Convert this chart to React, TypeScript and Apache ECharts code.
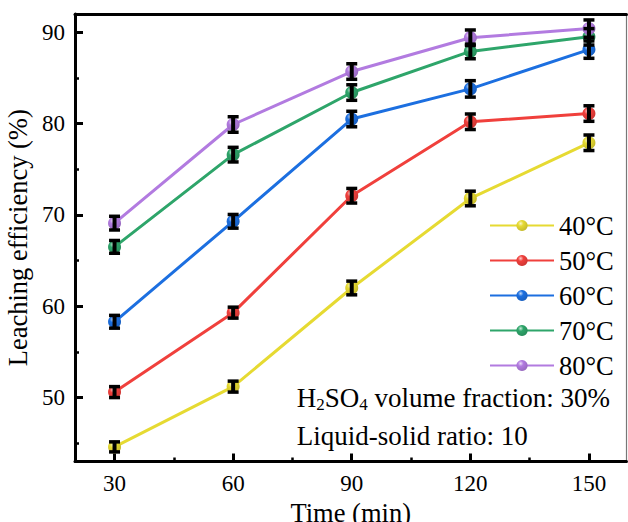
import React, { useEffect, useRef } from 'react';
import * as echarts from 'echarts';

const times = [30, 60, 90, 120, 150];
const seriesNames = ['40°C', '50°C', '60°C', '70°C', '80°C'];
const y40 = [44.6, 51.2, 62.0, 71.8, 77.9];
const y50 = [50.6, 59.3, 72.1, 80.2, 81.1];
const y60 = [58.3, 69.3, 80.5, 83.8, 88.1];
const y70 = [66.5, 76.6, 83.4, 87.9, 89.5];
const y80 = [69.1, 79.9, 85.7, 89.4, 90.4];
const e40 = [0.55, 0.6, 0.75, 0.8, 0.85];
const e50 = [0.6, 0.6, 0.8, 0.85, 0.85];
const e60 = [0.7, 0.75, 0.85, 0.9, 0.95];
const e70 = [0.7, 0.8, 0.85, 0.8, 0.9];
const e80 = [0.75, 0.85, 0.85, 0.85, 0.95];
const xMajorTicks = [30, 60, 90, 120, 150];
const xMinorTicks = [45, 75, 105, 135];
const yMajorTicks = [50, 60, 70, 80, 90];
const yMinorTicks = [45, 55, 65, 75, 85];
const colors = ['#E6DA32', '#F0403C', '#1C6FE0', '#2EA56A', '#B27BE0'];
const annotation1 = ['H', '2', 'SO', '4', ' volume fraction: 30%'];
const annotation2 = 'Liquid-solid ratio: 10';
const xTitle = 'Time (min)';
const yTitle = 'Leaching efficiency (%)';

const FONT = 'Liberation Serif';

function lighten(hex: string, f: number) {
  const n = parseInt(hex.slice(1), 16);
  const r = (n >> 16) & 255, g = (n >> 8) & 255, b = n & 255;
  const m = (c: number) => Math.round(c + (255 - c) * f);
  return `rgb(${m(r)},${m(g)},${m(b)})`;
}
function darken(hex: string, f: number) {
  const n = parseInt(hex.slice(1), 16);
  const r = (n >> 16) & 255, g = (n >> 8) & 255, b = n & 255;
  const m = (c: number) => Math.round(c * (1 - f));
  return `rgb(${m(r)},${m(g)},${m(b)})`;
}

export default function App() {
  const ref = useRef<HTMLDivElement>(null);
  useEffect(() => {
    if (!ref.current) return;
    const chart = echarts.init(ref.current, undefined, { renderer: 'svg' });
    const ys = [y40, y50, y60, y70, y80];
    const es = [e40, e50, e60, e70, e80];

    const lineSeries = ys.map((ys0, i) => ({
      type: 'line',
      name: seriesNames[i],
      data: times.map((t, j) => [t, ys0[j]]),
      xAxisIndex: 0,
      yAxisIndex: 0,
      symbol: 'circle',
      symbolSize: 13,
      z: 2 + i,
      lineStyle: { color: colors[i], width: 3 },
      itemStyle: {
        color: {
          type: 'radial', x: 0.38, y: 0.32, r: 0.7,
          colorStops: [
            { offset: 0, color: lighten(colors[i], 0.75) },
            { offset: 0.35, color: colors[i] },
            { offset: 1, color: darken(colors[i], 0.15) },
          ],
        },
        borderWidth: 0,
      },
    }));

    const errSeries = ys.map((ys0, i) => ({
      type: 'custom',
      name: 'err' + i,
      xAxisIndex: 0,
      yAxisIndex: 0,
      z: 20,
      data: times.map((t, j) => [t, ys0[j] - es[i][j], ys0[j] + es[i][j]]),
      renderItem: (params: any, api: any) => {
        const x = api.value(0);
        const lo = api.coord([x, api.value(1)]);
        const hi = api.coord([x, api.value(2)]);
        const hw = 5.5;
        const st = { stroke: '#000', lineWidth: 3.5 };
        return {
          type: 'group',
          children: [
            { type: 'line', shape: { x1: lo[0], y1: lo[1], x2: hi[0], y2: hi[1] }, style: { stroke: '#000', lineWidth: 4 } },
            { type: 'line', shape: { x1: lo[0] - hw, y1: lo[1], x2: lo[0] + hw, y2: lo[1] }, style: st },
            { type: 'line', shape: { x1: hi[0] - hw, y1: hi[1], x2: hi[0] + hw, y2: hi[1] }, style: st },
          ],
        };
      },
    }));

    const labelStyle = { color: '#000', fontFamily: FONT, fontSize: 23 };

    const option: any = {
      animation: false,
      grid: { left: 75, top: 14, right: 1.5, bottom: 60.5, containLabel: false, outerBoundsMode: 'none' },
      legend: {
        data: seriesNames,
        orient: 'vertical',
        left: 489,
        top: 212,
        padding: 0,
        itemWidth: 64,
        itemHeight: 14,
        itemGap: 8,
        textStyle: { color: '#000', fontFamily: FONT, fontSize: 26.5, lineHeight: 26 },
      },
      xAxis: [
        {
          type: 'value', min: 20, max: 159.5, position: 'bottom',
          name: xTitle, nameLocation: 'middle', nameGap: 34,
          nameTextStyle: { color: '#000', fontFamily: FONT, fontSize: 26.5 },
          axisLine: { show: true, lineStyle: { color: '#000', width: 3 } },
          axisTick: { show: true, inside: true, length: 8, customValues: xMajorTicks, lineStyle: { color: '#000', width: 3 } },
          axisLabel: { ...labelStyle, margin: 10, customValues: xMajorTicks },
          splitLine: { show: false },
        },
        {
          type: 'value', min: 20, max: 159.5, position: 'bottom',
          axisLine: { show: false },
          axisTick: { show: true, inside: true, length: 4, customValues: xMinorTicks, lineStyle: { color: '#000', width: 2.5 } },
          axisLabel: { show: false },
          splitLine: { show: false },
        },
        {
          type: 'value', min: 20, max: 159.5, position: 'top',
          axisLine: { show: true, lineStyle: { color: '#000', width: 3 } },
          axisTick: { show: false },
          axisLabel: { show: false },
          splitLine: { show: false },
        },
      ],
      yAxis: [
        {
          type: 'value', min: 43, max: 92, position: 'left',
          name: yTitle, nameLocation: 'middle', nameGap: 40,
          nameTextStyle: { color: '#000', fontFamily: FONT, fontSize: 26.5 },
          axisLine: { show: true, lineStyle: { color: '#000', width: 3 } },
          axisTick: { show: true, inside: true, length: 8, customValues: yMajorTicks, lineStyle: { color: '#000', width: 3 } },
          axisLabel: { ...labelStyle, margin: 10, customValues: yMajorTicks },
          splitLine: { show: false },
        },
        {
          type: 'value', min: 43, max: 92, position: 'left',
          axisLine: { show: false },
          axisTick: { show: true, inside: true, length: 4, customValues: yMinorTicks, lineStyle: { color: '#000', width: 2.5 } },
          axisLabel: { show: false },
          splitLine: { show: false },
        },
        {
          type: 'value', min: 43, max: 92, position: 'right',
          axisLine: { show: true, lineStyle: { color: '#777', width: 1.2 } },
          axisTick: { show: false },
          axisLabel: { show: false },
          splitLine: { show: false },
        },
      ],
      graphic: [
        {
          type: 'text',
          left: 296.7,
          top: 384,
          z: 50,
          style: {
            text: `{m|${annotation1[0]}}{s|${annotation1[1]}}{m|${annotation1[2]}}{s|${annotation1[3]}}{m|${annotation1[4]}}`,
            rich: {
              m: { fontFamily: FONT, fontSize: 27, lineHeight: 30, fill: '#000', color: '#000' },
              s: { fontFamily: FONT, fontSize: 17, lineHeight: 10, verticalAlign: 'bottom', fill: '#000', color: '#000' },
            },
          },
        },
        {
          type: 'text',
          left: 296.7,
          top: 422,
          z: 50,
          style: { text: annotation2, fontFamily: FONT, fontSize: 27, fill: '#000' },
        },
      ],
      series: [...lineSeries, ...errSeries],
    };
    chart.setOption(option);
    return () => chart.dispose();
  }, []);
  return <div ref={ref} style={{ position: 'absolute', left: 0, top: 0, width: 628, height: 522 }} />;
}
